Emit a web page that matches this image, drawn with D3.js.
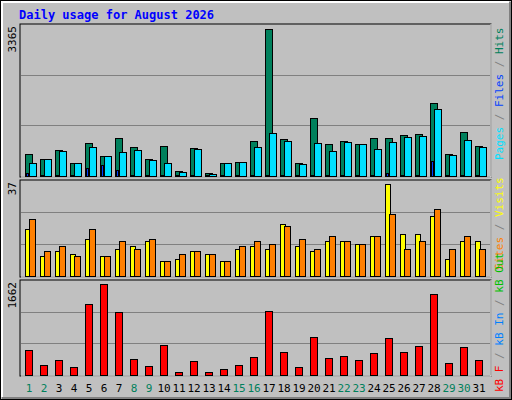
<!DOCTYPE html>
<html><head><meta charset="utf-8">
<script src="https://cdn.jsdelivr.net/npm/d3@7"></script>
<style>body{margin:0}svg{display:block}</style></head>
<body><svg id="c" width="512" height="400"></svg>
<script>
const days = d3.range(1, 32);
const weekend = [1,2,8,9,15,16,22,23,29,30];
const hits  = [510,396,601,305,761,464,876,670,396,693,122,647,76,305,327,807,3365,853,305,1332,738,807,738,876,876,944,967,1675,510,1013,693];
const files = [305,396,579,305,670,464,556,601,373,305,99,624,53,305,327,670,990,807,282,761,579,784,738,624,784,898,921,1538,487,830,670];
const pages = [76,20,20,20,190,259,145,20,20,20,20,20,20,20,20,20,20,20,20,20,20,20,20,20,76,20,20,350,20,20,20];
const visits= [19,8,10,9,15,8,11,12,14,6,7,10,9,6,11,12,11,21,12,10,14,14,13,16,37,17,17,24,7,14,14];
const sites = [23,10,12,8,19,8,14,11,15,6,9,10,9,6,12,14,13,20,15,11,16,14,13,16,25,11,14,27,11,16,11];
const kbytes= [461,188,279,152,1298,1662,1153,297,170,552,61,261,61,115,188,334,1171,425,152,698,315,352,279,406,679,425,534,1480,224,516,279];

const svg = d3.select("#c");
const mono = "'DejaVu Sans Mono', monospace";
svg.append("rect").attr("width",512).attr("height",400).attr("fill","#000");
svg.append("rect").attr("x",1).attr("y",1).attr("width",510).attr("height",398).attr("fill","#c0c0c0");
svg.append("path").attr("d","M2,397V2H509").attr("stroke","#fff").attr("stroke-width",2).attr("fill","none");
svg.append("path").attr("d","M2,398H510V2").attr("stroke","#808080").attr("stroke-width",2).attr("fill","none");
svg.append("text").attr("x",19).attr("y",19).attr("fill","#0000ff").attr("font-family",mono)
  .attr("font-weight","bold").attr("font-size",12).text("Daily usage for August 2026");

const x = d3.scaleLinear().domain([1,31]).range([25,475]);
const L=20, R=491;

function panel(top, bottom, max, topPad){
  const y = d3.scaleLinear().domain([0,max]).range([bottom, top+topPad]);
  svg.append("rect").attr("x",L).attr("y",top).attr("width",R-L).attr("height",bottom-top+1)
    .attr("fill","#c0c0c0").attr("stroke","#000");
  svg.append("path").attr("d",`M${L+1},${bottom+1}H${R}M${R},${top}V${bottom+1}`).attr("stroke","#fff").attr("fill","none");
  const h=bottom-top;
  [1/3,2/3].forEach(f=>svg.append("line").attr("x1",L+1).attr("x2",R-1)
     .attr("y1",Math.round(bottom-h*f)+0.5).attr("y2",Math.round(bottom-h*f)+0.5).attr("stroke","#808080"));
  svg.append("text").attr("transform",`translate(16,${top+2}) rotate(-90)`).attr("text-anchor","end")
    .attr("font-family",mono).attr("font-size",11).attr("fill","#000").text(max);
  return y;
}
function bars(y, data, dx, w, color){
  svg.append("g").selectAll("rect").data(data).join("rect")
    .attr("x",(d,i)=>x(days[i])+dx+0.5).attr("y",d=>Math.round(y(d))+0.5)
    .attr("width",w).attr("height",d=>Math.max(0,y(0)-Math.round(y(d))))
    .attr("fill",color).attr("stroke","#000");
}
function rlabel(yBottom, parts){
  const t = svg.append("text").attr("transform",`translate(503,${yBottom}) rotate(-90)`)
    .attr("font-family",mono).attr("font-size",11);
  parts.forEach(p=>t.append("tspan").attr("fill",p[1]).text(p[0]));
}

const y1 = panel(24,176,3365,5);
bars(y1,hits,0,7,"#00805c");
bars(y1,files,4,7,"#00e0ff");
bars(y1,pages,1,2,"#0040ff");
rlabel(160,[["Pages","#00e0ff"],[" / ","#808080"],["Files","#0040ff"],[" / ","#808080"],["Hits","#00805c"]]);

const y2 = panel(180,276,37,4);
bars(y2,visits,0,5,"#ffff00");
bars(y2,sites,4,6,"#ff8000");
rlabel(270,[["Sites","#ff8000"],[" / ","#808080"],["Visits","#ffff00"]]);

const y3 = panel(280,375,1662,4);
bars(y3,kbytes,0,7,"#ff0000");
rlabel(392,[["kB F","#ff0000"],[" / ","#808080"],["kB In","#0080ff"],[" / ","#808080"],["kB Out","#00c000"]]);

svg.append("g").selectAll("text").data(days).join("text")
  .attr("x",d=>x(d)+4).attr("y",392).attr("text-anchor","middle")
  .attr("font-family",mono).attr("font-size",11)
  .attr("fill",d=>weekend.includes(d)?"#00805c":"#000").text(d=>d);
</script></body></html>
